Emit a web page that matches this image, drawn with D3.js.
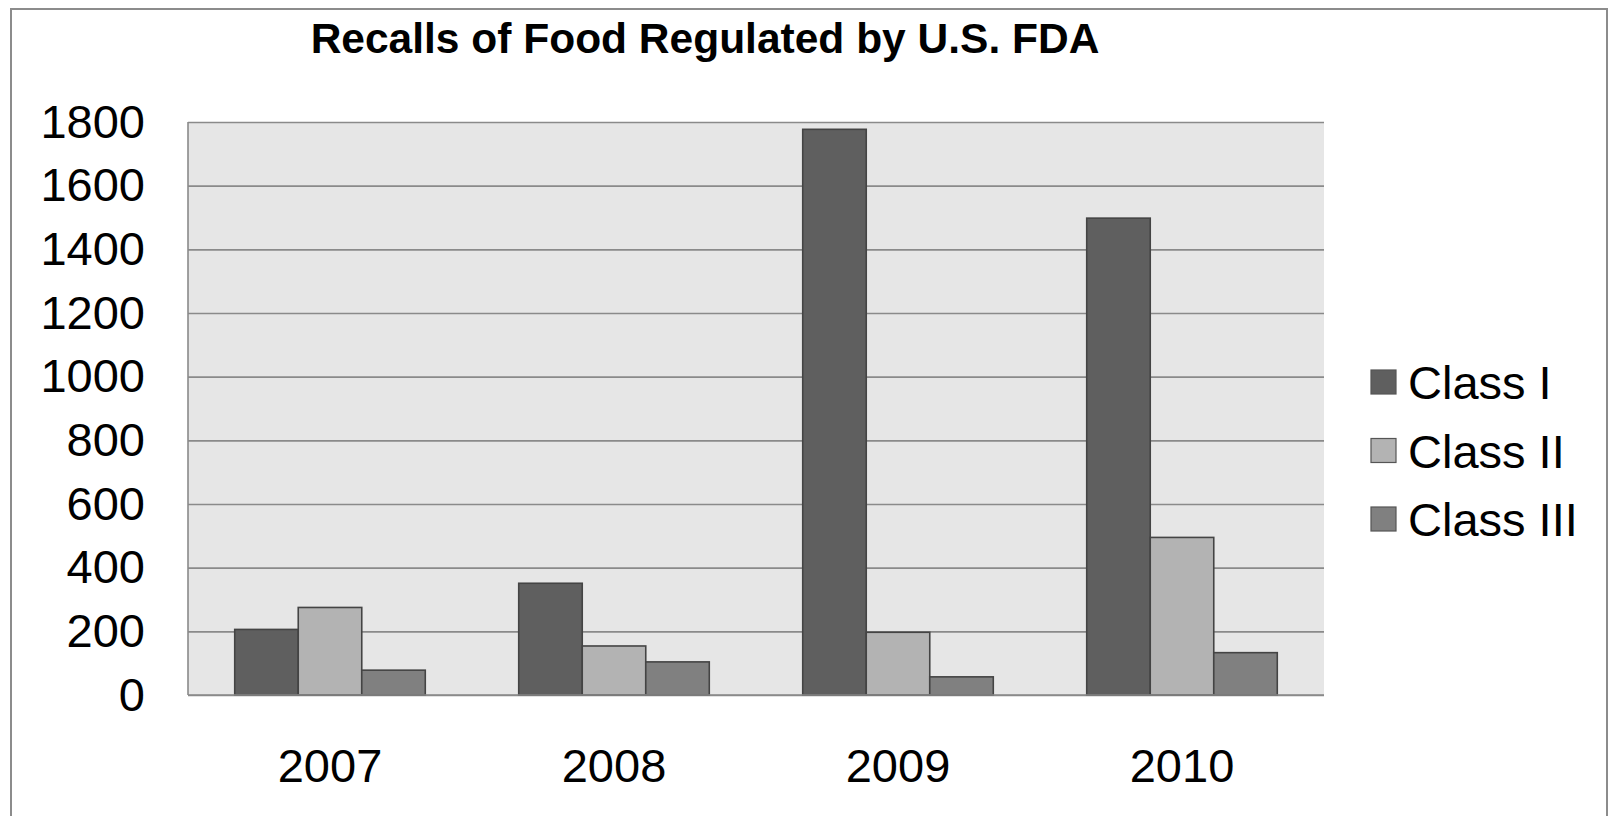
<!DOCTYPE html>
<html>
<head>
<meta charset="utf-8">
<script src="https://cdn.jsdelivr.net/npm/d3@7"></script>
<style>
  html, body { margin: 0; padding: 0; background: #ffffff; }
  svg { display: block; font-family: "Liberation Sans", Arial, sans-serif; }
</style>
</head>
<body>
<svg id="chart" width="1608" height="816"></svg>
<script>
// Recalls of food regulated by the U.S. FDA, by year and recall class
const years = ["2007", "2008", "2009", "2010"];
const seriesNames = ["Class I", "Class II", "Class III"];
const classI = [206, 351, 1777, 1498];
const classII = [275, 154, 197, 495];
const classIII = [78, 104, 57, 133];
const yTicks = [0, 200, 400, 600, 800, 1000, 1200, 1400, 1600, 1800];
const seriesColors = ["#5f5f5f", "#b3b3b3", "#808080"];

const seriesValues = [classI, classII, classIII];

const W = 1608, H = 816;
const plot = { left: 188, right: 1324, top: 122, bottom: 695 };
const labelSize = 47;

const svg = d3.select("#chart");

// Outer chart frame
svg.append("rect")
  .attr("x", 11).attr("y", 9)
  .attr("width", 1596).attr("height", 820)
  .attr("fill", "#ffffff")
  .attr("stroke", "#8c8c8c").attr("stroke-width", 2);

// Title
svg.append("text")
  .attr("x", 705).attr("y", 53)
  .attr("text-anchor", "middle")
  .attr("font-size", 42.5).attr("font-weight", "bold")
  .attr("fill", "#000")
  .text("Recalls of Food Regulated by U.S. FDA");

const y = d3.scaleLinear().domain([0, 1800]).range([plot.bottom, plot.top]);
const x0 = d3.scaleBand().domain(years)
  .range([plot.left, plot.right])
  .paddingInner(0.329).paddingOuter(0.1645);
const x1 = d3.scaleBand().domain(seriesNames).range([0, x0.bandwidth()]);
const color = d3.scaleOrdinal().domain(seriesNames).range(seriesColors);

// Plot area background
svg.append("rect")
  .attr("x", plot.left).attr("y", plot.top)
  .attr("width", plot.right - plot.left).attr("height", plot.bottom - plot.top)
  .attr("fill", "#e6e6e6");

// Horizontal gridlines + y labels via the axis generator
const yAxis = svg.append("g")
  .attr("transform", `translate(${plot.left},0)`)
  .call(d3.axisLeft(y).tickValues(yTicks).tickFormat(d3.format("d"))
    .tickSize(-(plot.right - plot.left)).tickPadding(43));
yAxis.select(".domain").remove();
yAxis.selectAll(".tick line")
  .attr("stroke", "#8a8a8a").attr("stroke-width", 1.6);
yAxis.selectAll(".tick text")
  .attr("font-size", labelSize).attr("fill", "#000")
  .attr("font-family", "Liberation Sans, Arial, sans-serif");

// Left axis line
svg.append("line")
  .attr("x1", plot.left).attr("x2", plot.left)
  .attr("y1", plot.top).attr("y2", plot.bottom)
  .attr("stroke", "#8a8a8a").attr("stroke-width", 1.6);

// Bars
const rows = years.map((yr, i) => ({ year: yr, vals: seriesNames.map((s, j) => ({ key: s, value: seriesValues[j][i] })) }));
const groups = svg.append("g").selectAll("g")
  .data(rows).join("g")
  .attr("transform", d => `translate(${x0(d.year)},0)`);
groups.selectAll("rect")
  .data(d => d.vals).join("rect")
  .attr("x", d => x1(d.key))
  .attr("y", d => y(d.value))
  .attr("width", x1.bandwidth())
  .attr("height", d => y(0) - y(d.value))
  .attr("fill", d => color(d.key))
  .attr("stroke", "#444444").attr("stroke-width", 1.6);

// Baseline
svg.append("line")
  .attr("x1", plot.left).attr("x2", plot.right)
  .attr("y1", plot.bottom).attr("y2", plot.bottom)
  .attr("stroke", "#8a8a8a").attr("stroke-width", 1.6);

// X category labels
const xAxis = svg.append("g")
  .attr("transform", `translate(0,${plot.bottom})`)
  .call(d3.axisBottom(x0).tickSize(0).tickPadding(0));
xAxis.select(".domain").remove();
xAxis.selectAll(".tick text")
  .attr("font-size", labelSize).attr("fill", "#000")
  .attr("font-family", "Liberation Sans, Arial, sans-serif")
  .attr("dy", null).attr("y", 87);

// Legend
const legend = svg.append("g").selectAll("g")
  .data(seriesNames).join("g")
  .attr("transform", (d, i) => `translate(1371,${370 + i * 68.5})`);
legend.append("rect")
  .attr("width", 25).attr("height", 24)
  .attr("fill", d => color(d))
  .attr("stroke", "#555555").attr("stroke-width", 1.2);
legend.append("text")
  .attr("x", 37).attr("y", 29)
  .attr("font-size", labelSize).attr("fill", "#000")
  .text(d => d);
</script>
</body>
</html>
